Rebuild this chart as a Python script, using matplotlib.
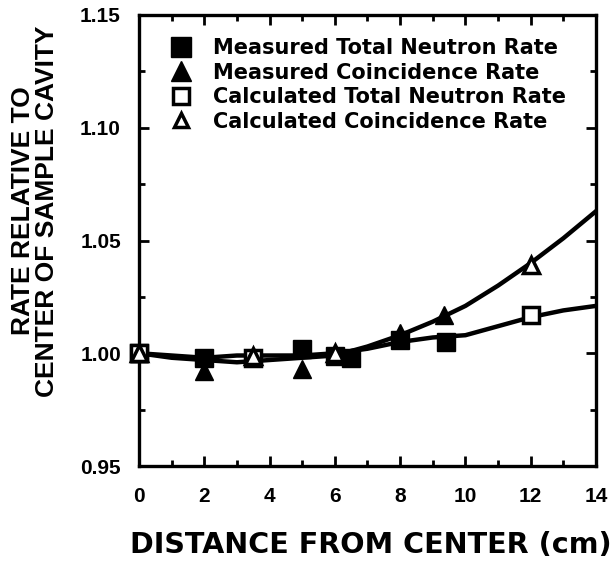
import matplotlib
matplotlib.use("Agg")
import matplotlib.pyplot as plt
from matplotlib.ticker import MultipleLocator, FormatStrFormatter
from matplotlib.lines import Line2D

# Measured total neutron rate (filled squares)
meas_total_x = [0.0, 2.0, 5.0, 6.0, 6.5, 8.0, 9.4]
meas_total_y = [1.000, 0.998, 1.002, 0.999, 0.998, 1.006, 1.005]
# Measured coincidence rate (filled triangles)
meas_coin_x = [0.0, 2.0, 5.0, 8.0, 9.35]
meas_coin_y = [1.000, 0.992, 0.993, 1.009, 1.017]
# Calculated total neutron rate (open squares)
calc_total_x = [0.0, 3.5, 12.0]
calc_total_y = [1.000, 0.998, 1.017]
# Calculated coincidence rate (open triangles)
calc_coin_x = [0.0, 3.5, 6.0, 12.0]
calc_coin_y = [1.000, 0.999, 1.000, 1.039]

# Curves
curve_x = [0, 1, 2, 3, 4, 5, 6, 7, 8, 9, 10, 11, 12, 13, 14]
curve_total_y = [1.000, 0.999, 0.998, 0.999, 0.999, 0.999, 1.000, 1.002,
                 1.005, 1.007, 1.008, 1.012, 1.016, 1.019, 1.021]
curve_coin_y = [1.000, 0.998, 0.997, 0.996, 0.997, 0.998, 0.999, 1.003,
                1.008, 1.014, 1.021, 1.030, 1.040, 1.051, 1.063]

legend_labels = ["Measured Total Neutron Rate", "Measured Coincidence Rate",
                 "Calculated Total Neutron Rate", "Calculated Coincidence Rate"]
x_label = "DISTANCE FROM CENTER (cm)"
y_label = "RATE RELATIVE TO\nCENTER OF SAMPLE CAVITY"

lib = ["Liberation Sans", "DejaVu Sans"]
dej = ["DejaVu Sans"]
plt.rcParams["font.family"] = lib
plt.rcParams["font.weight"] = "bold"

W, H = 615, 563
fig = plt.figure(figsize=(W / 100, H / 100), dpi=100)
ax = fig.add_axes([139 / W, (H - 466) / H, 457 / W, 451 / H])

ax.plot(curve_x, curve_total_y, color="black", lw=3.2, zorder=2)
ax.plot(curve_x, curve_coin_y, color="black", lw=3.2, zorder=2)

ms = 13
ax.plot(meas_total_x, meas_total_y, ls="none", marker="s", ms=ms, mfc="black", mec="black", zorder=3, clip_on=False)
ax.plot(meas_coin_x, meas_coin_y, ls="none", marker="^", ms=ms, mfc="black", mec="black", zorder=3, clip_on=False)
ax.plot(calc_total_x, calc_total_y, ls="none", marker="s", ms=ms - 1, mfc="white", mec="black", mew=2.5, zorder=4, clip_on=False)
ax.plot(calc_coin_x, calc_coin_y, ls="none", marker="^", ms=ms - 1, mfc="white", mec="black", mew=2.5, zorder=5, clip_on=False)

ax.set_xlim(0, 14)
ax.set_ylim(0.95, 1.15)
ax.xaxis.set_major_locator(MultipleLocator(2))
ax.xaxis.set_minor_locator(MultipleLocator(1))
ax.yaxis.set_major_locator(MultipleLocator(0.05))
ax.yaxis.set_minor_locator(MultipleLocator(0.025))
ax.yaxis.set_major_formatter(FormatStrFormatter("%.2f"))
ax.tick_params(which="both", direction="in", top=True, right=True, width=2.0)
ax.tick_params(which="major", length=7, labelsize=15)
ax.tick_params(axis="x", which="major", pad=15)
ax.tick_params(axis="y", which="major", pad=13)
ax.tick_params(which="minor", length=4)
for lab in ax.get_xticklabels() + ax.get_yticklabels():
    lab.set_fontweight("bold")
for sp in ax.spines.values():
    sp.set_linewidth(2.4)

fig.text(0.5 * (128 + 613) / W, 1 - 545 / H, x_label, fontsize=20.6, fontweight="bold",
         family=dej, ha="center", va="center")
fig.text(35 / W, 1 - 211 / H, y_label, fontsize=19, fontweight="bold", family=lib,
         rotation=90, ha="center", va="center", multialignment="center", linespacing=0.95)

handles = [
    Line2D([], [], ls="none", marker="s", ms=14, mfc="black", mec="black"),
    Line2D([], [], ls="none", marker="^", ms=14, mfc="black", mec="black"),
    Line2D([], [], ls="none", marker="s", ms=11, mfc="white", mec="black", mew=2.5),
    Line2D([], [], ls="none", marker="^", ms=10, mfc="white", mec="black", mew=2.5),
]
leg = ax.legend(handles, legend_labels, loc="upper left",
                bbox_to_anchor=(171 / W, 1 - 38 / H), bbox_transform=fig.transFigure,
                frameon=False, prop={"family": dej, "weight": "bold", "size": 15},
                handletextpad=1.0, labelspacing=0.22, handlelength=1.0,
                borderaxespad=0.0, borderpad=0.0)

fig.savefig("out.png", dpi=100)
